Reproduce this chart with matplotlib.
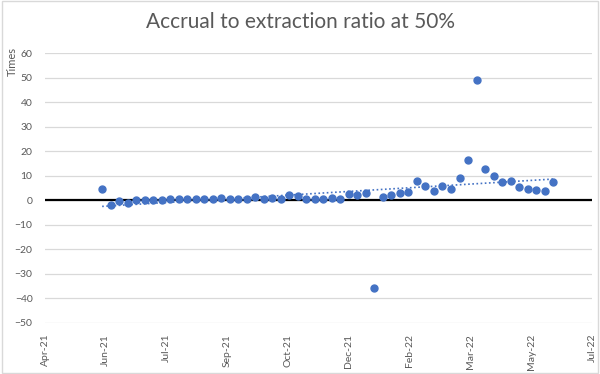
import matplotlib
matplotlib.use("Agg")
import matplotlib.pyplot as plt
import matplotlib.dates as mdates
import numpy as np
import pandas as pd
from matplotlib.patches import Rectangle

plt.rcParams['font.family'] = ['Lato', 'DejaVu Sans']

start_date = "2021-05-29"
ratio = [4.4, -1.8, -0.5, -1.1, 0.0, 0.2, 0.2, 0.3, 0.5, 0.4,
         0.4, 0.4, 0.4, 0.6, 1.0, 0.4, 0.5, 0.4, 1.4, 0.5,
         0.8, 0.7, 2.0, 1.6, 0.5, 0.7, 0.7, 0.9, 0.7, 2.7,
         2.3, 3.1, -36.0, 1.4, 2.0, 3.1, 3.3, 7.9, 5.7, 3.7,
         6.0, 4.6, 9.1, 16.6, 49.3, 12.7, 9.9, 7.3, 7.9, 5.6,
         4.6, 4.2, 3.9, 7.6]
dates = pd.date_range(start_date, periods=len(ratio), freq="7D")

title = "Accrual to extraction ratio at 50%"
ylabel = "Times"
axis_start = "2021-04-12"
axis_days = 450
tick_step_days = 50

fig = plt.figure(figsize=(6.0, 3.74), dpi=100)
fig.patch.set_facecolor("white")
ax = fig.add_axes([45/600, 1-322.7/374, (592-45)/600, (322.7-53.3)/374])

x0 = mdates.date2num(pd.Timestamp(axis_start))
ax.set_xlim(x0, x0 + axis_days)
ax.set_ylim(-50, 60)
ax.set_yticks(np.arange(-50, 61, 10))
ax.set_xticks([x0 + k*tick_step_days for k in range(axis_days//tick_step_days + 1)])
ax.xaxis.set_major_formatter(mdates.DateFormatter("%b-%y"))

ax.grid(axis="y", color="#d9d9d9", linewidth=0.9)
ax.set_axisbelow(True)
for s in ax.spines.values():
    s.set_visible(False)
ax.tick_params(axis="both", length=0, labelsize=7.5, labelcolor="#595959")
ax.tick_params(axis="x", pad=8, labelrotation=90)
ax.tick_params(axis="y", pad=9)

ax.axhline(0, color="black", linewidth=1.6, zorder=2)

xn = mdates.date2num(dates)
ax.plot(xn, ratio, "o", color="#4472C4", markersize=5, zorder=4)

coef = np.polyfit(xn, ratio, 1)
tx = np.array([xn[0], xn[-1]])
ax.plot(tx, np.polyval(coef, tx), linestyle=(0, (1, 1.5)), color="#4472C4",
        linewidth=1.2, zorder=3)

fig.text(0.5, 1-22/374, title, ha="center", va="center", fontsize=15, color="#595959")
fig.text(12/600, 1-61/374, ylabel, rotation=90, ha="center", va="center",
         fontsize=8, color="#595959")

fig.patches.append(Rectangle((0.003, 0.004), 0.994, 0.992, transform=fig.transFigure,
                             fill=False, edgecolor="#d9d9d9", linewidth=1))

fig.savefig("out.png", dpi=100)
